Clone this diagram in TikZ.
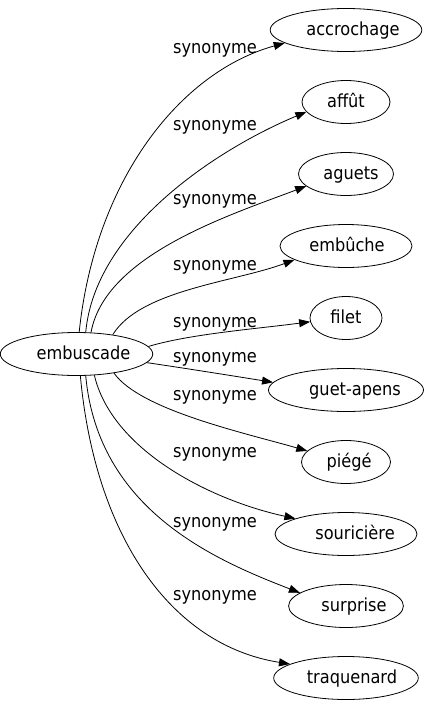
\documentclass[tikz,border=0pt]{standalone}
\usepackage{fontspec}
\setmainfont{DejaVu Sans Condensed}
\usetikzlibrary{arrows.meta,shapes.geometric}
\newcommand{\sh}[2]{\hspace*{#1pt}#2}
\begin{document}
\begin{tikzpicture}[x=1pt,y=-1pt,
  word/.style={draw,ellipse,line width=0.8pt,minimum height=43pt,inner sep=0pt,text height=14pt,text depth=4pt,font=\fontsize{18}{20}\selectfont},
  rel/.style={font=\fontsize{18}{20}\selectfont,anchor=base,inner sep=0pt},
  edge/.style={line width=0.8pt,-{Triangle[length=11pt,width=8pt]}}]
\useasboundingbox (0,0) rectangle (424,707);
\node[word,minimum width=143pt] (emb) at (76.5,354) {\sh{14}{embuscade}};
\node[word,minimum width=145pt] (n1) at (346,30) {\sh{14}{accrochage}};
\node[word,minimum width=88pt] (n2) at (346,102) {affût};
\node[word,minimum width=95pt] (n3) at (346,174) {\sh{10}{aguets}};
\node[word,minimum width=132pt] (n4) at (346,246) {\sh{2}{embûche}};
\node[word,minimum width=72pt] (n5) at (346,318) {filet};
\node[word,minimum width=142pt] (n6) at (346,390) {\sh{18}{guet-apens}};
\node[word,minimum width=89pt] (n7) at (346,462) {\sh{6}{piégé}};
\node[word,minimum width=142pt] (n8) at (346,534) {\sh{18}{souricière}};
\node[word,minimum width=108pt] (n9) at (346,606) {\sh{16}{surprise}};
\node[word,minimum width=140pt] (n10) at (346,678) {\sh{12}{traquenard}};
\draw[edge] (emb.83) .. controls (95,180) and (180,72) .. (n1.192);
\draw[edge] (emb.67) .. controls (95,230) and (215,150) .. (n2.194);
\draw[edge] (emb.56) .. controls (105,255) and (230,215) .. (n3.197);
\draw[edge] (emb.28) .. controls (140,290) and (235,282) .. (n4.195);
\draw[edge] (emb.6) .. controls (190,334) and (255,329) .. (n5.186);
\draw[edge] (emb.-7) .. controls (190,369) and (240,377) .. (n6.174);
\draw[edge] (emb.-27) .. controls (140,410) and (245,433) .. (n7.164);
\draw[edge] (emb.-50) .. controls (112,450) and (210,500) .. (n8.163);
\draw[edge] (emb.-67) .. controls (98,510) and (215,560) .. (n9.164);
\draw[edge] (emb.-80) .. controls (95,535) and (170,645) .. (n10.166);
\node[rel] (l1) at (215,53.6) {synonyme};
\node[rel] (l2) at (215,130) {synonyme};
\node[rel] (l3) at (215,204) {synonyme};
\node[rel] (l4) at (215,270.3) {synonyme};
\node[rel] (l5) at (215,327) {synonyme};
\node[rel] (l6) at (215,362) {synonyme};
\node[rel] (l7) at (215,400.3) {synonyme};
\node[rel] (l8) at (215,457) {synonyme};
\node[rel] (l9) at (215,527) {synonyme};
\node[rel] (l10) at (215,600.3) {synonyme};
\end{tikzpicture}
\end{document}
